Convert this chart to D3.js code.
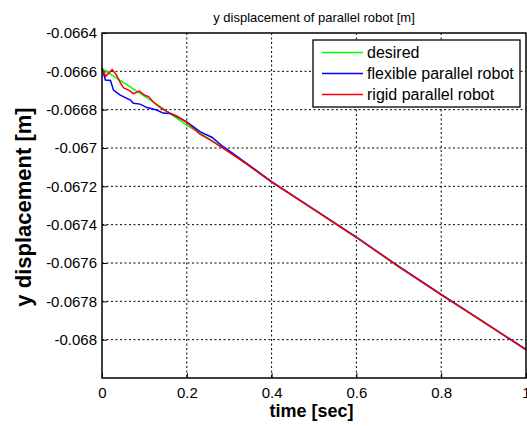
<!DOCTYPE html>
<html>
<head>
<meta charset="utf-8">
<script src="https://cdn.jsdelivr.net/npm/d3@7"></script>
<style>
  body { margin: 0; background: #fff; }
  text { font-family: "Liberation Sans", Arial, sans-serif; }
</style>
</head>
<body>
<div id="chart"></div>
<script>
// ---- data ----
const seriesNames = ["desired", "flexible parallel robot", "rigid parallel robot"]
const seriesColors = ["#00ff00", "#0000ff", "#ff0000"]

const desiredT = [0, 0.05, 0.1, 0.15, 0.2, 0.25, 0.3, 0.4, 0.5, 0.6, 0.7, 0.8, 0.9, 1.0]
const desiredV = [-0.066584, -0.066657, -0.066729, -0.066804, -0.06688, -0.066948, -0.067019, -0.067177,
                  -0.067321, -0.067466, -0.067619, -0.067765, -0.067908, -0.068052]

const flexT = [0, 0.008, 0.02, 0.027, 0.043, 0.067, 0.074, 0.09, 0.106, 0.129, 0.144, 0.161, 0.176, 0.2,
               0.231, 0.26, 0.285, 0.32, 0.4, 0.5, 0.6, 0.7, 0.8, 0.9, 1.0]
const flexV = [-0.066584, -0.066645, -0.066648, -0.066698, -0.066724, -0.06675, -0.066767, -0.066771,
               -0.066789, -0.066802, -0.066818, -0.06682, -0.066836, -0.066864, -0.066915, -0.066945,
               -0.066992, -0.067046, -0.067175, -0.06732, -0.067465, -0.067618, -0.067764, -0.067907, -0.068051]

const rigidT = [0, 0.009, 0.024, 0.034, 0.041, 0.051, 0.063, 0.074, 0.088, 0.102, 0.11, 0.121, 0.133,
                0.147, 0.161, 0.176, 0.2, 0.231, 0.255, 0.278, 0.302, 0.34, 0.4, 0.5, 0.6, 0.7, 0.8, 0.9, 1.0]
const rigidV = [-0.066588, -0.066625, -0.066591, -0.066619, -0.066651, -0.066687, -0.066698, -0.066716,
                -0.066703, -0.066726, -0.066732, -0.06676, -0.066781, -0.066802, -0.066818, -0.066833,
                -0.066866, -0.066928, -0.066958, -0.06699, -0.067026, -0.067082, -0.067178, -0.067322,
                -0.067467, -0.06762, -0.067766, -0.067909, -0.068053]

const xTicks = [0, 0.2, 0.4, 0.6, 0.8, 1]
const yTicks = [-0.0664, -0.0666, -0.0668, -0.067, -0.0672, -0.0674, -0.0676, -0.0678, -0.068]
const yGrid = [-0.0664, -0.0666, -0.0668, -0.067, -0.0672, -0.0674, -0.0676, -0.0678, -0.068, -0.0682]

const series = [
  desiredT.map((t, i) => ({t: t, v: desiredV[i]})),
  flexT.map((t, i) => ({t: t, v: flexV[i]})),
  rigidT.map((t, i) => ({t: t, v: rigidV[i]}))
]

// ---- layout ----
var margin = {top: 33, right: 1, bottom: 48, left: 102},
    width = 527 - margin.left - margin.right,
    height = 426 - margin.top - margin.bottom;

var svg = d3.select("#chart")
  .append("svg")
    .attr("width", 527)
    .attr("height", 426)

var g = svg.append("g")
    .attr("transform", "translate(" + margin.left + "," + margin.top + ")");

var x = d3.scaleLinear().domain([0, 1]).range([0, width])
var y = d3.scaleLinear().domain([-0.0682, -0.0664]).range([height, 0])

// grid
g.append("g").selectAll("line")
  .data(xTicks.slice(1, -1))
  .join("line")
    .attr("x1", d => x(d)).attr("x2", d => x(d))
    .attr("y1", 0).attr("y2", height)
    .attr("stroke", "#000").attr("stroke-width", 1)
    .attr("stroke-dasharray", "2,2.5")
g.append("g").selectAll("line")
  .data(yGrid.slice(1, -1))
  .join("line")
    .attr("x1", 0).attr("x2", width)
    .attr("y1", d => y(d)).attr("y2", d => y(d))
    .attr("stroke", "#000").attr("stroke-width", 1)
    .attr("stroke-dasharray", "2,2.5")

// axes
var xAxis = g.append("g")
  .attr("transform", "translate(0," + height + ")")
  .call(d3.axisBottom(x).tickValues(xTicks).tickSize(-5).tickPadding(9).tickFormat(d3.format("")))
var yAxis = g.append("g")
  .call(d3.axisLeft(y).tickValues(yTicks).tickSize(-5).tickPadding(5).tickFormat(d => String(d)))

;[xAxis, yAxis].forEach(a => {
  a.selectAll("text").attr("font-size", 15).attr("fill", "#000")
    .style("font-family", "'Liberation Sans', Arial, sans-serif")
  a.select(".domain").remove()
})

// data lines
var line = d3.line().x(d => x(d.t)).y(d => y(d.v))
series.forEach((s, i) => {
  g.append("path")
    .datum(s)
    .attr("fill", "none")
    .attr("stroke", seriesColors[i])
    .attr("stroke-width", 1.5)
    .attr("d", line)
})

// box
g.append("rect")
  .attr("x", 0).attr("y", 0).attr("width", width).attr("height", height)
  .attr("fill", "none").attr("stroke", "#000").attr("stroke-width", 1.5)

// legend
var lg = svg.append("g").attr("transform", "translate(313,40)")
lg.append("rect")
  .attr("width", 207).attr("height", 67)
  .attr("fill", "#fff").attr("stroke", "#000").attr("stroke-width", 1.3)
seriesNames.forEach((name, i) => {
  var yy = 12.5 + i * 21
  lg.append("line")
    .attr("x1", 9).attr("x2", 50).attr("y1", yy).attr("y2", yy)
    .attr("stroke", seriesColors[i]).attr("stroke-width", 1.5)
  lg.append("text")
    .attr("x", 54).attr("y", yy + 5.5)
    .attr("font-size", 16).attr("fill", "#000")
    .text(name)
})

// titles
svg.append("text")
  .attr("x", margin.left + width / 2).attr("y", 22)
  .attr("text-anchor", "middle").attr("font-size", 13)
  .text("y displacement of parallel robot [m]")

svg.append("text")
  .attr("x", 311.5).attr("y", 417)
  .attr("text-anchor", "middle").attr("font-size", 18).attr("font-weight", "bold")
  .text("time [sec]")

svg.append("text")
  .attr("transform", "translate(31,207) rotate(-90)")
  .attr("text-anchor", "middle").attr("font-size", 22).attr("font-weight", "bold")
  .text("y displacement [m]")
</script>
</body>
</html>
